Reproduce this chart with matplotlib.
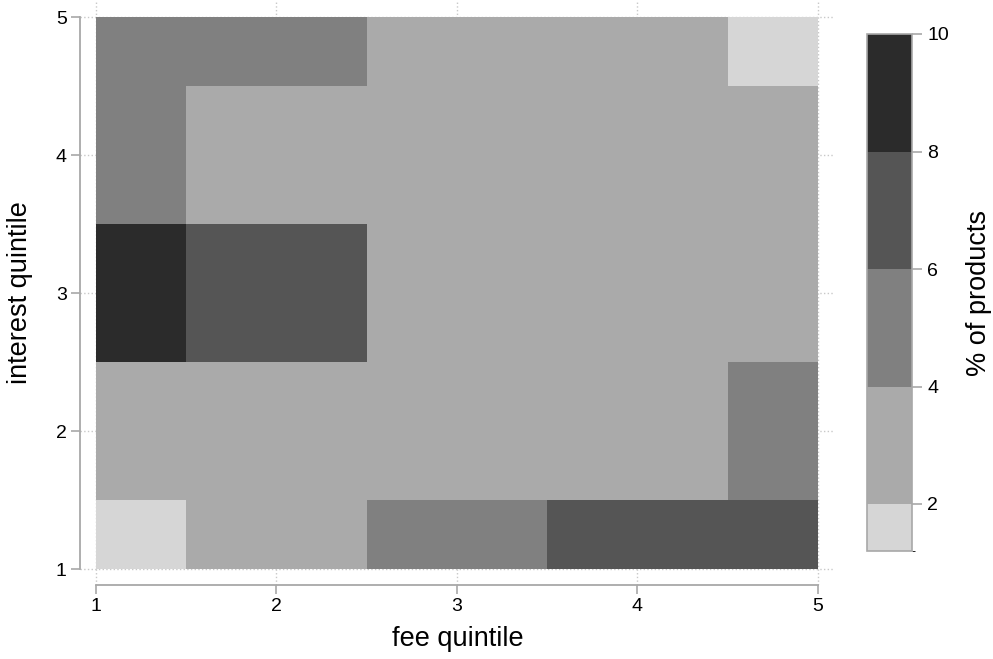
import numpy as np
import matplotlib
matplotlib.use("Agg")
import matplotlib.pyplot as plt
from matplotlib.colors import ListedColormap, BoundaryNorm

plt.rcParams['font.family'] = ['Liberation Sans', 'DejaVu Sans']

# quintile positions (cell centres) and % of products per cell
fee_q = [1, 2, 3, 4, 5]
interest_q = [1, 2, 3, 4, 5]
# rows: interest quintile 1..5, columns: fee quintile 1..5
pct_products = np.array([
    [1.2, 3.0, 4.8, 6.8, 6.6],
    [3.2, 3.0, 3.4, 3.6, 4.6],
    [9.2, 6.4, 2.8, 3.0, 2.6],
    [5.0, 3.2, 3.0, 3.4, 3.0],
    [4.4, 4.6, 3.2, 2.8, 1.6],
])
level_bounds = [2, 4, 6, 8, 10]
level_colors = ['#d6d6d6', '#aaaaaa', '#808080', '#555555', '#2b2b2b']

axis_gray = '#a8a8a8'


def cell_edges(centres):
    c = np.asarray(centres, dtype=float)
    mids = (c[:-1] + c[1:]) / 2
    return np.concatenate([[c[0]], mids, [c[-1]]])


fig = plt.figure(figsize=(9.93, 6.59), dpi=100)
ax = fig.add_axes([80 / 993, 74 / 659, 755 / 993, 585 / 659])

cmap = ListedColormap(level_colors)
bounds = [pct_products.min()] + level_bounds
norm = BoundaryNorm(bounds, cmap.N)

mesh = ax.pcolormesh(cell_edges(fee_q), cell_edges(interest_q), pct_products,
                     cmap=cmap, norm=norm, shading='flat', zorder=1)

ax.set_xlim(1 - 16 / 180.5, 5 + 17 / 180.5)
ax.set_ylim(1 - 16 / 138, 5 + 17 / 138)
ax.set_xticks(fee_q)
ax.set_yticks(interest_q)
ax.set_axisbelow(True)
ax.grid(True, ls=':', color='#c8c8c8', lw=1)

for side in ('top', 'right'):
    ax.spines[side].set_visible(False)
for side in ('left', 'bottom'):
    ax.spines[side].set_bounds(1, 5)
    ax.spines[side].set_color(axis_gray)
    ax.spines[side].set_linewidth(1.3)
ax.tick_params(direction='out', length=6.5, width=1.2, color=axis_gray,
               labelsize=14, pad=3)

ax.set_xlabel('fee quintile', fontsize=19.5, labelpad=8)
ax.set_ylabel('interest quintile', fontsize=19.5, labelpad=10)
ax.yaxis.set_label_coords(-0.062, (3 - ax.get_ylim()[0]) / np.diff(ax.get_ylim())[0])

# colour legend
cax = fig.add_axes([867 / 993, 108 / 659, 45 / 993, 517 / 659])
cb = fig.colorbar(mesh, cax=cax, ticks=level_bounds, spacing='proportional')
cb.outline.set_edgecolor(axis_gray)
cb.outline.set_linewidth(1.2)
cax.tick_params(direction='out', length=7, width=1.2, color=axis_gray,
                labelsize=14, pad=4)
cb.set_label('% of products', fontsize=19.5, labelpad=12)

fig.savefig('out.png', dpi=100)
